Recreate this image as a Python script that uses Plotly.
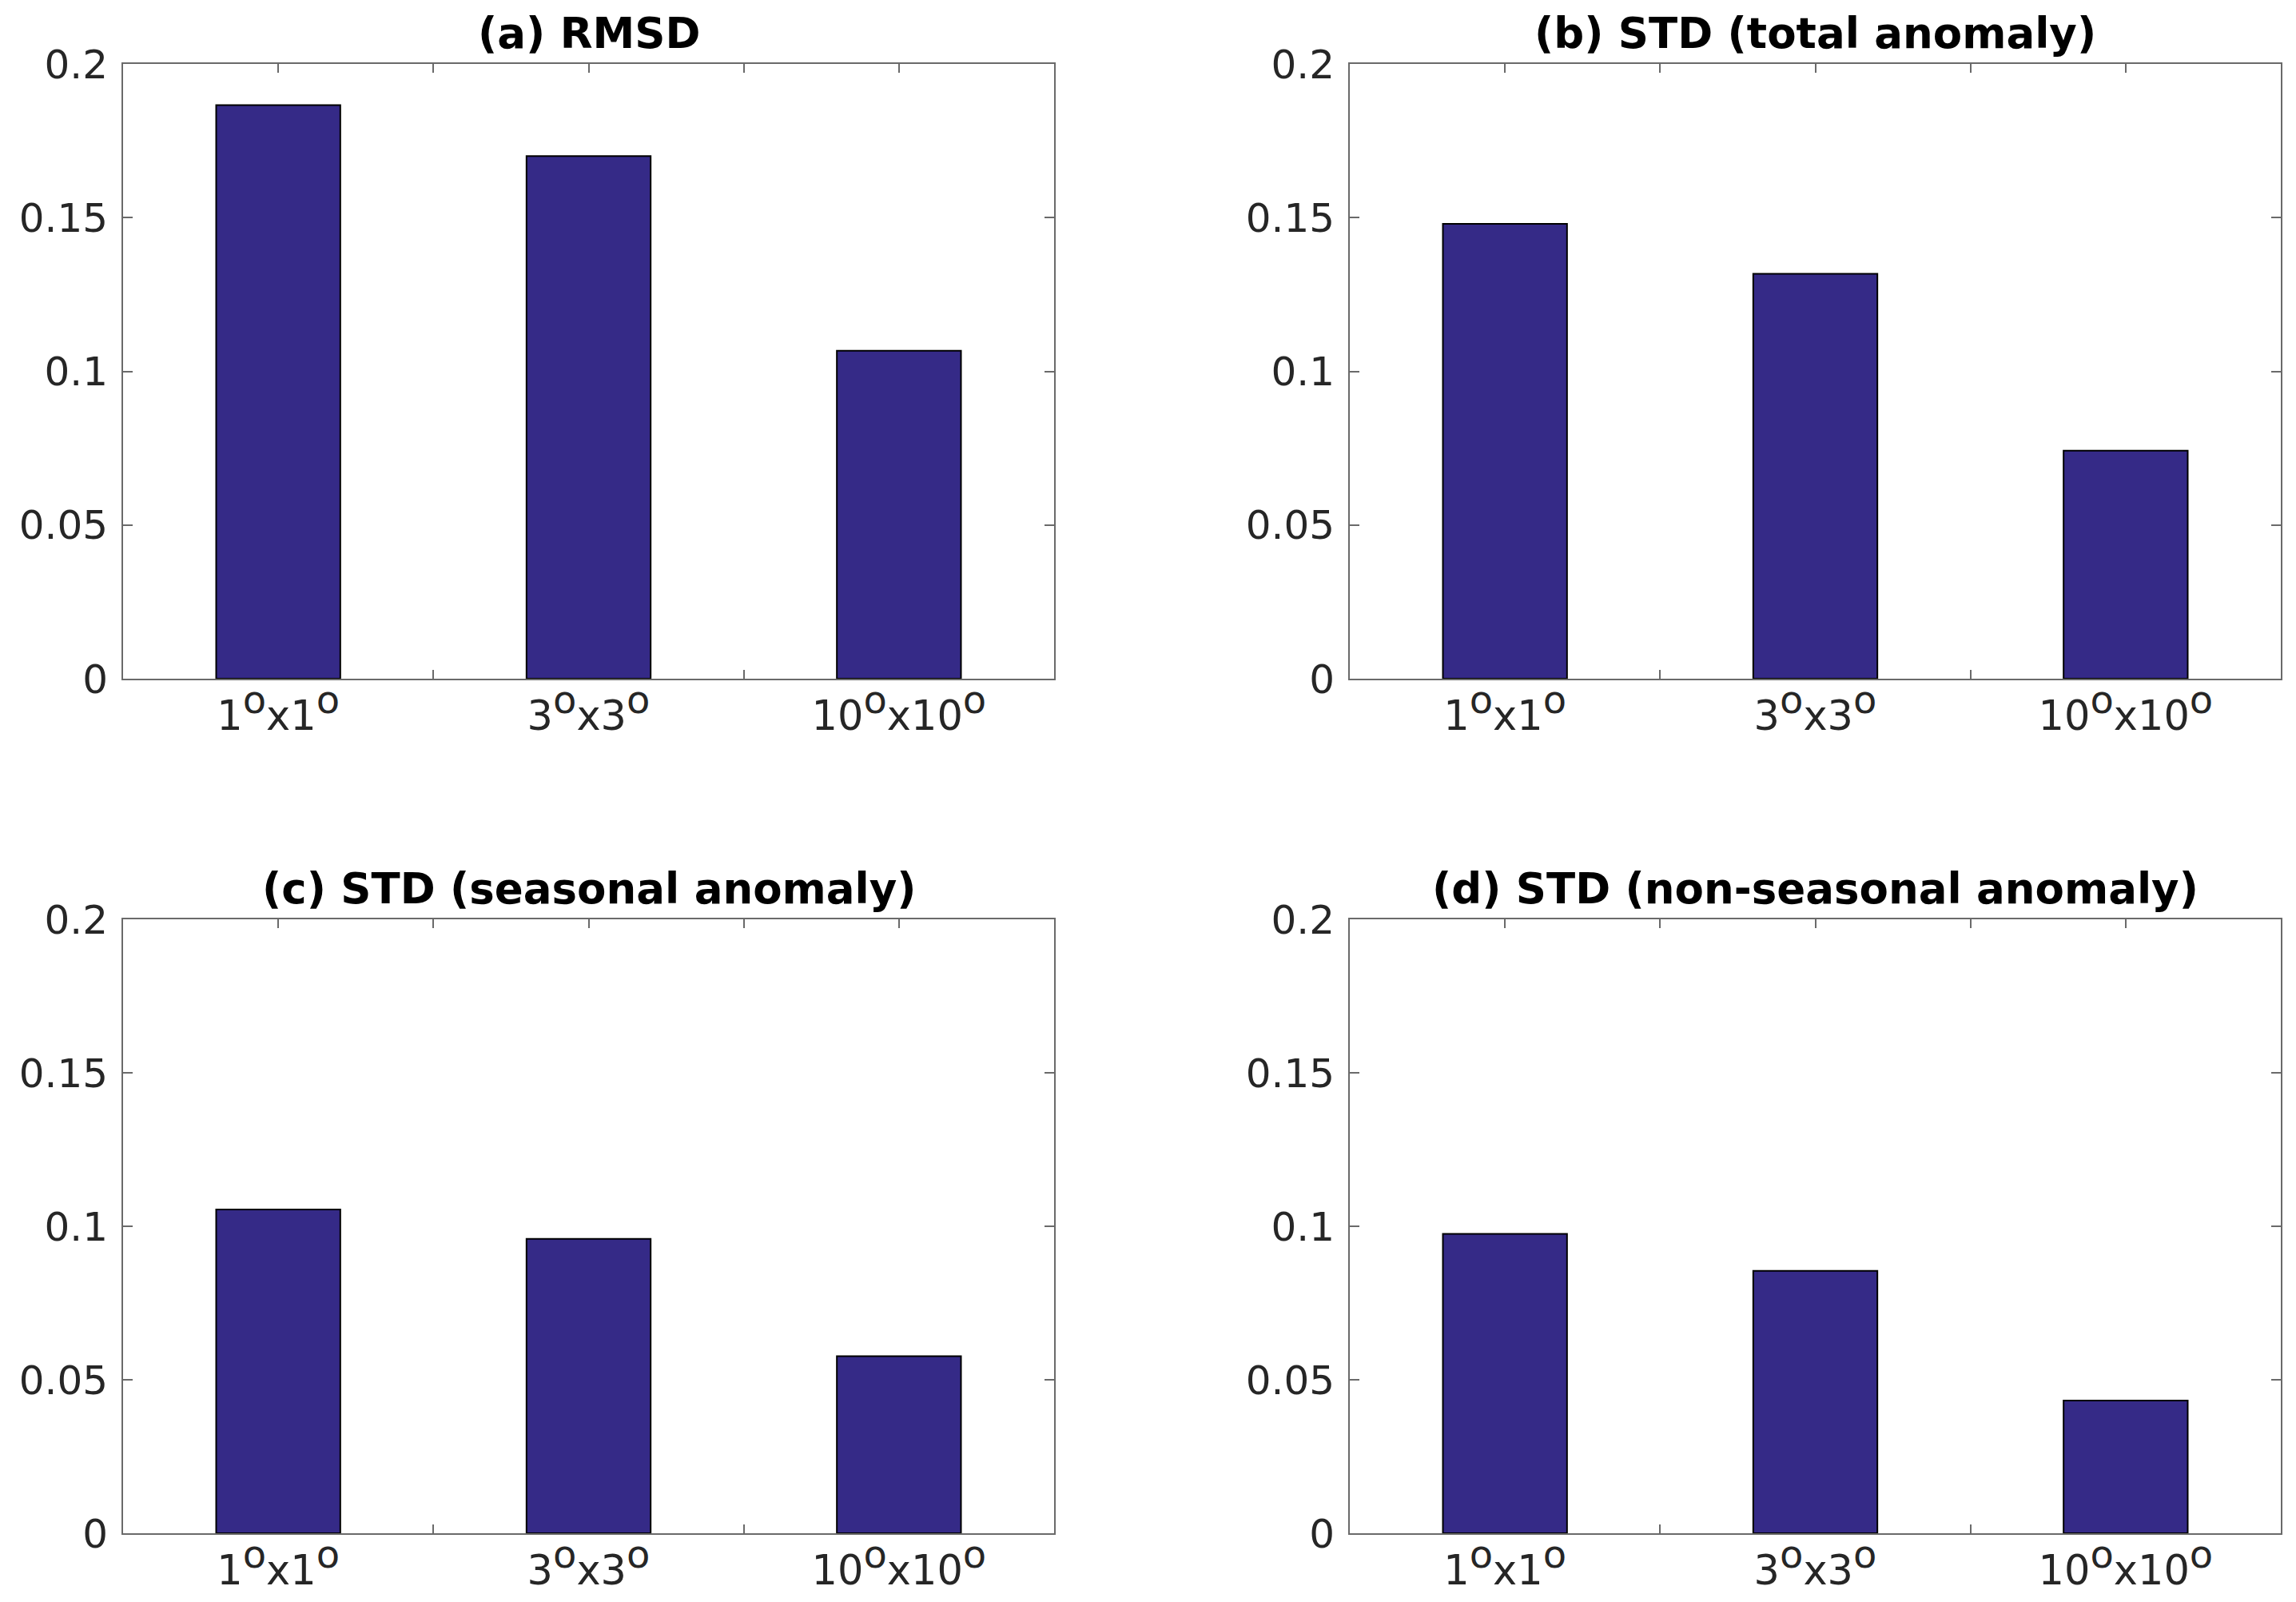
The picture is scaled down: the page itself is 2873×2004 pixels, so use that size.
import plotly.graph_objects as go

# ---- data ----
sup = "<sup><span style='font-size:48px'>o</span></sup>"
categories = ["1" + sup + "x1" + sup, "3" + sup + "x3" + sup, "10" + sup + "x10" + sup]
cat_pos = [1, 2, 3]
titles = ["(a) RMSD", "(b) STD (total anomaly)", "(c) STD (seasonal anomaly)", "(d) STD (non-seasonal anomaly)"]
rmsd = [0.1866, 0.1700, 0.1067]
std_total = [0.1480, 0.1317, 0.0742]
std_seasonal = [0.1055, 0.0959, 0.0577]
std_nonseasonal = [0.0975, 0.0855, 0.0432]
y_tickvals = [0, 0.05, 0.1, 0.15, 0.2]
y_ticktext = ["0", "0.05", "0.1", "0.15", "0.2"]
x_tickvals = [1, 1.5, 2, 2.5, 3]

panels = [rmsd, std_total, std_seasonal, std_nonseasonal]

OFF = 8  # default page margin
W, H = 2873 - 2 * OFF, 2004 - 2 * OFF
col_px = [(154 - OFF, 1319 - OFF), (1689 - OFF, 2854 - OFF)]
row_px = [(80 - OFF, 849 - OFF), (1150 - OFF, 1918 - OFF)]
title_gap = 39

BAR_COLOR = "#352A87"
AXIS_COLOR = "#6a6a6a"
FONT = "DejaVu Sans, Liberation Sans, Arial, sans-serif"

fig = go.Figure()
layout = dict(
    width=W, height=H,
    margin=dict(l=0, r=0, t=0, b=0, pad=0, autoexpand=False),
    paper_bgcolor="white", plot_bgcolor="white",
    showlegend=False,
    font=dict(family=FONT, color="#262626"),
    annotations=[],
)

for i, vals in enumerate(panels):
    r, c = divmod(i, 2)
    n = "" if i == 0 else str(i + 1)
    xd = [col_px[c][0] / W, col_px[c][1] / W]
    yd = [1 - row_px[r][1] / H, 1 - row_px[r][0] / H]
    fig.add_trace(go.Bar(
        x=cat_pos, y=vals, width=0.4,
        marker=dict(color=BAR_COLOR, line=dict(color="black", width=2)),
        xaxis="x" + n, yaxis="y" + n,
    ))
    xt = []
    for v in x_tickvals:
        xt.append(categories[cat_pos.index(v)] if v in cat_pos else "")
    layout["xaxis" + n] = dict(
        domain=xd, anchor="y" + n, range=[0.5, 3.5], automargin=False,
        tickvals=x_tickvals, ticktext=xt,
        showline=True, linecolor=AXIS_COLOR, linewidth=2, mirror="ticks",
        ticks="inside", ticklen=11, tickwidth=2, tickcolor=AXIS_COLOR,
        showgrid=False, zeroline=False, layer="below traces",
        tickfont=dict(size=51, family=FONT, color="#262626"),
        ticklabelstandoff=1, fixedrange=True,
    )
    layout["yaxis" + n] = dict(
        domain=yd, anchor="x" + n, range=[0, 0.2], automargin=False,
        tickvals=y_tickvals, ticktext=y_ticktext,
        showline=True, linecolor=AXIS_COLOR, linewidth=2, mirror="ticks",
        ticks="inside", ticklen=12, tickwidth=2, tickcolor=AXIS_COLOR,
        showgrid=False, zeroline=False, layer="below traces",
        tickfont=dict(size=50, family=FONT, color="#262626"),
        ticklabelstandoff=7, fixedrange=True,
    )
    layout["annotations"].append(dict(
        text="<b>" + titles[i] + "</b>",
        x=(xd[0] + xd[1]) / 2, y=yd[1] + title_gap / H,
        xref="paper", yref="paper", xanchor="center", yanchor="middle",
        showarrow=False, font=dict(size=53, family=FONT, color="black"),
    ))

fig.update_layout(**layout)
fig.write_html("out.html")
